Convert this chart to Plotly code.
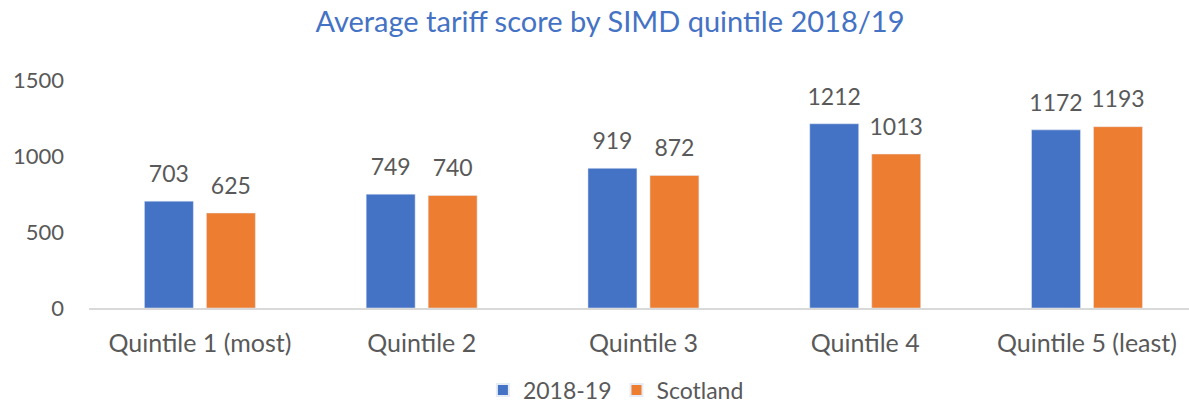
import plotly.graph_objects as go

categories = ["Quintile 1 (most)", "Quintile 2", "Quintile 3", "Quintile 4", "Quintile 5 (least)"]
series_2018 = [703, 749, 919, 1212, 1172]
series_scotland = [625, 740, 872, 1013, 1193]
y_ticks = [0, 500, 1000, 1500]

BLUE = "#4472C4"
ORANGE = "#ED7D31"
TEXT = "#595959"
FONT = "Lato"

fig = go.Figure()
fig.add_trace(go.Bar(x=categories, y=series_2018, name="2018-19", marker_color=BLUE,
                     offsetgroup="a"))
fig.add_trace(go.Bar(x=categories, y=series_scotland, name="Scotland", marker_color=ORANGE,
                     offsetgroup="b"))
# data labels
for vals, grp in [(series_2018, "a"), (series_scotland, "b")]:
    fig.add_trace(go.Scatter(x=categories, y=vals, text=[str(v) for v in vals],
                             mode="markers+text", textposition="top center",
                             marker=dict(size=20, color="rgba(0,0,0,0)"),
                             textfont=dict(size=23, color=TEXT, family=FONT),
                             showlegend=False, hoverinfo="skip", offsetgroup=grp,
                             cliponaxis=False))

fig.update_layout(
    width=1189, height=407,
    margin=dict(l=89, r=0, t=80, b=99, autoexpand=False),
    paper_bgcolor="white", plot_bgcolor="white",
    font=dict(family=FONT, color=TEXT, size=24),
    barmode="group", bargap=0.441, bargroupgap=0.21,
    scattermode="group", scattergap=0.441,
    title=dict(text="Average tariff score by SIMD quintile 2018/19",
               font=dict(size=29, color=BLUE, family=FONT),
               xref="container", x=0.513, xanchor="center",
               yref="container", y=0.947, yanchor="middle"),
    legend=dict(orientation="h", xanchor="center", x=0.479, yanchor="middle", y=-0.36,
                font=dict(size=23, color=TEXT), itemsizing="constant"),
    xaxis=dict(range=[-0.5, 4.46], showline=True, linecolor="#D9D9D9", linewidth=1.5,
               showgrid=False, ticks="", tickfont=dict(size=25, color=TEXT),
               ticklabelstandoff=12, automargin=False),
    yaxis=dict(range=[0, 1500], tickvals=y_ticks, showgrid=False, zeroline=False,
               showline=False, ticks="", tickfont=dict(size=22, color=TEXT),
               ticklabelstandoff=24, automargin=False),
)

fig.write_html("out.html", config={"displayModeBar": False},
               post_script="document.body.style.margin='0px';")
